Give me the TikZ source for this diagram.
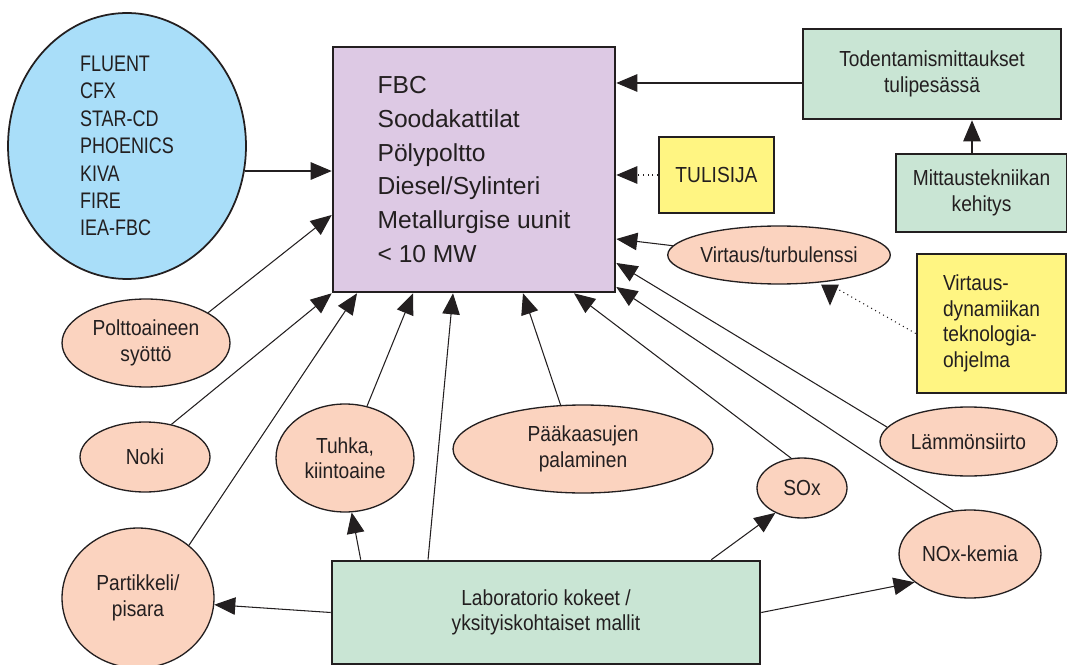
\documentclass[tikz,border=0pt]{standalone}
\usepackage{fontspec}
\setmainfont{Liberation Sans}[FakeStretch=0.88]
\newfontfamily\widefont{Liberation Sans}
\newfontfamily\narrowfont{Liberation Sans}[FakeStretch=0.8]
\usetikzlibrary{shapes.geometric}
\usetikzlibrary{arrows.meta}
\usetikzlibrary{calc}
\definecolor{cdark}{RGB}{35,31,32}
\definecolor{skyfill}{RGB}{169,222,249}
\definecolor{lilafill}{RGB}{221,201,228}
\definecolor{mintfill}{RGB}{201,229,212}
\definecolor{lemonfill}{RGB}{255,245,130}
\definecolor{salmonfill}{RGB}{251,211,191}
\tikzstyle{cbox}    = [draw=cdark, text=cdark, line width=1.5pt, inner sep=0pt, align=center, font=\fontsize{12.4pt}{14.5pt}\selectfont]
\tikzstyle{cgreen}  = [cbox, fill=mintfill]
\tikzstyle{cyellow} = [cbox, fill=lemonfill]
\tikzstyle{clila}   = [cbox, fill=lilafill, align=left, font=\widefont\fontsize{14pt}{19.3pt}\selectfont]
\tikzstyle{cblue}   = [ellipse, draw=cdark, text=cdark, line width=1pt, fill=skyfill, inner sep=0pt, align=left, font=\narrowfont\fontsize{12.8pt}{15.6pt}\selectfont]
\tikzstyle{csalmon} = [ellipse, draw=cdark, text=cdark, line width=0.75pt, fill=salmonfill, inner sep=0pt, align=center, font=\fontsize{12.4pt}{14.5pt}\selectfont]
\tikzstyle{arr}     = [draw=cdark, line width=0.6pt, -{Triangle[length=4.2mm,width=3.5mm]}]
\tikzstyle{dotarr}  = [arr, dotted]

\begin{document}
\begin{tikzpicture}[x=0.02cm,y=-0.02cm]
  \useasboundingbox (0,0) rectangle (1067,665);
  % laatikot
  \node[cblue, minimum width=4.76cm, minimum height=5.32cm] (cfd) at (127,146)
    {FLUENT\\CFX\\STAR-CD\\PHOENICS\\KIVA\\FIRE\\IEA-FBC};
  \node[clila, minimum width=5.64cm, minimum height=4.9cm] (fbc) at (474,169.5)
    {FBC\\Soodakattilat\\Pölypoltto\\Diesel/Sylinteri\\Metallurgise uunit\\< 10 MW};
  \node[cgreen, minimum width=5.16cm, minimum height=1.8cm] (todent) at (932,74) {Todentamismittaukset\\tulipesässä};
  \node[cgreen, minimum width=3.42cm, minimum height=1.56cm] (mitta) at (981.5,193) {Mittaustekniikan\\kehitys};
  \node[cyellow, minimum width=2.3cm, minimum height=1.52cm] (tuli) at (716.5,175) {TULISIJA};
  \node[cyellow, minimum width=2.98cm, minimum height=2.78cm, align=left] (ohjelma) at (991.5,323.5)
    {Virtaus-\\dynamiikan\\teknologia-\\ohjelma};
  \node[cgreen, minimum width=8.56cm, minimum height=2.06cm] (lab) at (546,612.5) {Laboratorio kokeet /\\yksityiskohtaiset mallit};
  % ellipsit
  \node[csalmon, minimum width=3.36cm, minimum height=1.76cm] (poltto) at (146,343) {Polttoaineen\\syöttö};
  \node[csalmon, minimum width=2.6cm, minimum height=1.4cm] (noki) at (145,457) {Noki};
  \node[csalmon, minimum width=3.04cm, minimum height=2.8cm] (part) at (138,598) {Partikkeli/\\pisara};
  \node[csalmon, minimum width=2.76cm, minimum height=2.16cm] (tuhka) at (345,458) {Tuhka,\\kiintoaine};
  \node[csalmon, minimum width=5.2cm, minimum height=1.76cm] (paak) at (583,449) {Pääkaasujen\\palaminen};
  \node[csalmon, minimum width=1.8cm, minimum height=1.2cm] (sox) at (802,488) {SOx};
  \node[csalmon, minimum width=2.84cm, minimum height=1.76cm] (nox) at (970,554) {NOx-kemia};
  \node[csalmon, minimum width=3.54cm, minimum height=1.38cm] (lamm) at (968.5,441.5) {Lämmönsiirto};
  \node[csalmon, minimum width=4.28cm, minimum height=1.16cm] (virt) at (779,255) {Virtaus/turbulenssi};
  % nuolet
  \draw[arr] (cfd.-12) -- (fbc.west |- cfd.-12);
  \draw[arr] (poltto.26) -- ([yshift=-0.91cm]fbc.west);
  \draw[arr] (noki.51) -- (fbc.south west);
  \draw[arr] (part.46) -- ([xshift=-2.34cm]fbc.south);
  \draw[arr] (tuhka.67) -- ([xshift=-1.22cm]fbc.south);
  \draw[arr] ([xshift=-2.36cm]lab.north) -- ([xshift=-0.42cm]fbc.south);
  \draw[arr] (paak.117) -- ([xshift=0.98cm]fbc.south);
  \draw[arr] (sox.110) -- ([xshift=2cm]fbc.south);
  \draw[arr] (nox.111) -- ([yshift=-2.35cm]fbc.east);
  \draw[arr] (lamm.170) -- ([yshift=-1.87cm]fbc.east);
  \draw[arr] (virt.175) -- ([yshift=-1.39cm]fbc.east);
  \draw[dotarr] (tuli.west) -- (fbc.east |- tuli.west);
  \draw[arr] ([yshift=-0.18cm]todent.west) coordinate (t1) -- (fbc.east |- t1);
  \draw[arr] ([xshift=-0.19cm]mitta.north) coordinate (m1) -- (todent.south -| m1);
  \draw[dotarr] ([yshift=-0.2cm]ohjelma.west) -- ([xshift=1.02cm]virt.south) -- ++(0,-0.42cm);
  % laboratoriosta
  \draw[arr] ([xshift=0.6cm]lab.north west) -- (tuhka.-83);
  \draw[arr] (lab.west) -- (part.-5);
  \draw[arr] ([xshift=-1cm]lab.north east) -- (sox.-137);
  \draw[arr] (lab.east) -- (nox.-153);
\end{tikzpicture}
\end{document}
